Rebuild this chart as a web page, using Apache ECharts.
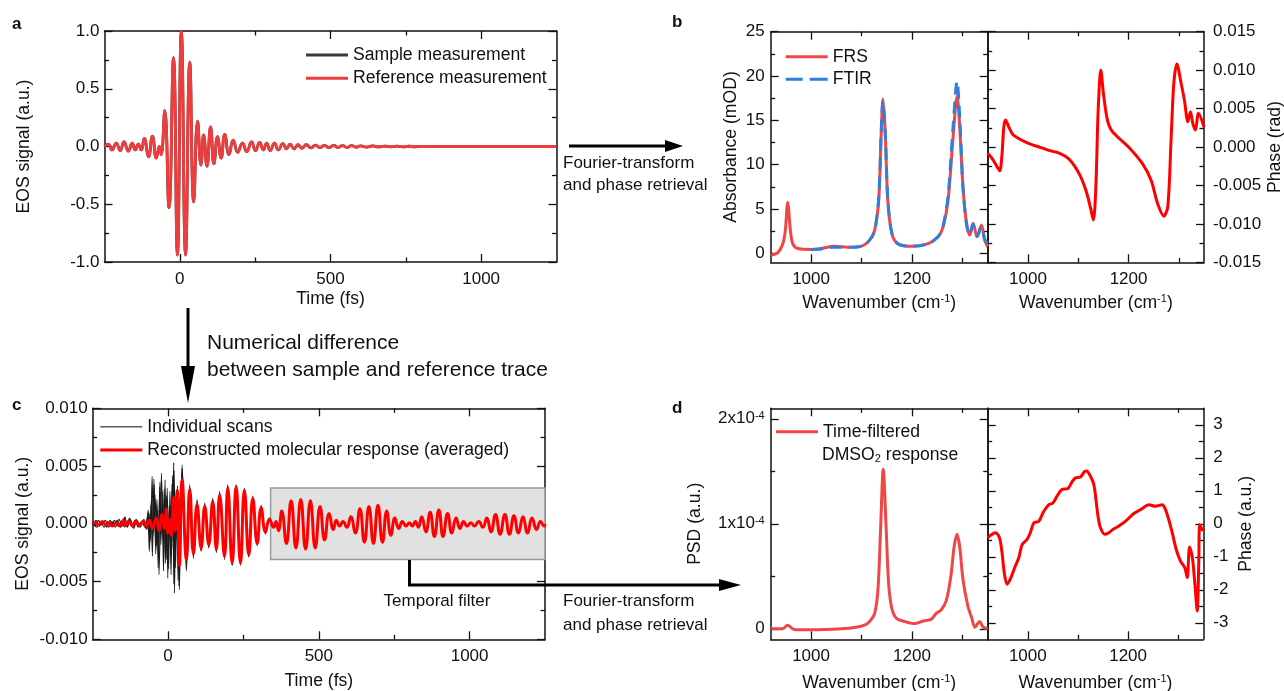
<!DOCTYPE html>
<html>
<head>
<meta charset="utf-8">
<script src="https://cdn.jsdelivr.net/npm/echarts@6/dist/echarts.min.js"></script>
<style>html,body{margin:0;padding:0;background:#fff}#c{width:1284px;height:691px}</style>
</head>
<body>
<div id="c"></div>
<script>
// ================= DATA =================
// Panel a: EOS signal (a.u.) vs time (fs); extrema of the reference trace.
// The sample trace is indistinguishable from it at this scale and is hidden underneath.
const aReference = [[-250,0],[-238,0.02],[-225,-0.03],[-211,0.03],[-198,-0.035],[-185,0.04],[-171,-0.04],[-158,0.03],[-148,-0.03],[-138,0.02],[-128,-0.03],[-118,0.07],[-104,-0.09],[-91,0.09],[-78,-0.1],[-68,0.0],[-62,-0.07],[-50,0.31],[-36,-0.53],[-21,0.77],[-8,-0.94],[5,1.0],[19,-0.94],[33,0.73],[46,-0.48],[59,0.22],[70,-0.16],[79,0.1],[90,-0.17],[102,0.17],[113,-0.15],[125,0.085],[137,-0.1],[149,0.105],[163,-0.07],[177,0.056],[192,-0.05],[208,0.03],[222,-0.045],[238,0.04],[251,-0.035],[265,0.035],[277,-0.03],[288,0.03],[300,-0.035],[314,0.03],[327,-0.03],[342,0.025],[354,-0.02],[366,0.02],[379,-0.02],[392,0.015],[405,-0.015],[420,0.015],[435,-0.012],[450,0.012],[465,-0.01],[480,0.01],[495,-0.01],[510,0.01],[525,-0.008],[540,0.008],[555,-0.008],[570,0.008],[585,-0.006],[600,0.006],[620,-0.005],[640,0.005],[660,-0.004],[680,0.004],[700,-0.003],[720,0.003],[740,-0.003],[760,0.002],[780,-0.002],[800,0],[1250,0]];

// Panel b: absorbance (mOD) and phase (rad) vs wavenumber (cm-1)
const bFRS = [[920,-0.2],[934,0.1],[944,1.1],[949,2.6],[953.7,5.75],[959,2.6],[963.6,1.1],[973.6,0.55],[1000,0.45],[1020,0.55],[1046,0.8],[1073,0.7],[1099,0.8],[1116,1.5],[1126,2.6],[1134,6.0],[1139,13.5],[1142.4,17.4],[1147,13.5],[1152,6.0],[1160,2.25],[1172,1.1],[1200,0.8],[1232,1.1],[1252,1.9],[1261.6,3.0],[1271.5,6.0],[1281,12.8],[1289.3,17.75],[1294.5,14.3],[1301,7.5],[1308,3.4],[1314.5,2.06],[1321,3.4],[1329,1.9],[1337.6,3.2],[1344,1.5],[1350,0.75]];
const bFTIR = [[1000,0.45],[1020,0.5],[1046,0.7],[1073,0.7],[1099,0.8],[1116,1.5],[1126,2.6],[1134,6.2],[1139,13.8],[1142.4,17.1],[1147,13.6],[1152,6.2],[1160,2.3],[1172,1.1],[1200,0.8],[1232,1.1],[1252,1.9],[1261.6,3.1],[1271.5,6.5],[1281,14.0],[1289.3,19.4],[1294.5,15.5],[1301,7.5],[1308,3.3],[1314.5,2.1],[1321,3.3],[1329,1.9],[1337.6,3.0],[1344,1.6],[1350,1.2]];
const bPhase = [[920,-0.0008],[929,-0.0015],[939,-0.0026],[944,-0.0031],[948.5,-0.0009],[952,0.0026],[955.5,0.0035],[962,0.0026],[972,0.0015],[1000,0.0005],[1022,0.0],[1045,-0.0005],[1062,-0.0008],[1082,-0.0016],[1102,-0.0035],[1115,-0.0056],[1124,-0.0078],[1130,-0.0095],[1135,-0.0052],[1139.6,0.0048],[1145,0.0100],[1150,0.007],[1158,0.0035],[1168,0.002],[1200,0.0],[1228,-0.0022],[1244.7,-0.0043],[1258,-0.0074],[1270,-0.009],[1278,-0.0078],[1284.5,0.0009],[1290,0.0083],[1296,0.0108],[1304.5,0.0083],[1311,0.0061],[1318,0.0033],[1323,0.0046],[1328,0.003],[1333,0.0022],[1339,0.0044],[1350,0.0026]];

// Panel c: reconstructed molecular response (averaged) and individual scans, EOS (a.u.) vs time (fs)
const cAveraged = [[-250,0],[-240,0.0001],[-230,-0.0001],[-218,0.0002],[-206,-0.0001],[-195,0.0001],[-185,-0.0002],[-172,0.0001],[-160,-0.0002],[-148,0.0003],[-140,-0.0001],[-130,0.0002],[-118,-0.0002],[-106,0.0002],[-94,-0.0001],[-82,0.0002],[-72,-0.0002],[-62,0.0003],[-52,-0.0004],[-39,0.0005],[-30,-0.0006],[-20,0.0008],[-12,-0.0004],[-5.6,0.0013],[-1,-0.0008],[6,0.0004],[11,-0.001],[18.7,0.0023],[24,-0.0006],[30,0.0029],[37.5,-0.0036],[46.5,0.0038],[60.8,-0.0031],[71.8,0.003],[84,-0.0026],[96,0.0017],[109.6,-0.0021],[121.6,0.0015],[135,-0.0018],[148,0.0019],[160,-0.0022],[171,0.0025],[187,-0.0028],[198,0.0031],[212.5,-0.0034],[225.6,0.0032],[240,-0.0034],[253,0.0029],[267.6,-0.0027],[281,0.0022],[295.5,-0.0017],[308.7,0.0014],[323,-0.0007],[336,0.0004],[350,-0.0003],[358,0.0002],[366,-0.0006],[377,0.0011],[392.5,-0.0017],[408,0.002],[424,-0.0021],[440,0.0021],[456,-0.0022],[472,0.002],[488,-0.0021],[504,0.0015],[519,-0.0014],[534,0.0009],[548,-0.0005],[558,0.0003],[569,-0.0002],[580,0.0002],[593,-0.0003],[606,0.0006],[621,-0.0008],[636,0.0013],[651,-0.0016],[666,0.0015],[681,-0.0017],[696,0.0016],[711,-0.0016],[725,0.0011],[739,-0.001],[752,0.0005],[765,-0.0004],[777,0.0002],[789,-0.0002],[800,0.0001],[810,-0.0002],[820,0.0002],[830,-0.0003],[841,0.0006],[855,-0.0007],[869,0.001],[883,-0.0011],[898,0.0012],[912,-0.0011],[927,0.0009],[941,-0.0008],[955,0.0005],[968,-0.0004],[980,0.0002],[992,-0.0002],[1004,0.0001],[1016,-0.0002],[1030,0.0002],[1044,-0.0003],[1057,0.0005],[1071,-0.0007],[1086,0.0008],[1101,-0.0009],[1117,0.0008],[1132,-0.0009],[1147,0.0007],[1162,-0.0008],[1177,0.0006],[1192,-0.0008],[1207,0.0005],[1222,-0.0005],[1235,0.0002],[1247,-0.0002],[1250,0]];
const cScan1 = [[-250,0.0002],[-241,-0.0002],[-231,0.0003],[-220,-0.0001],[-208,0.0003],[-197,-0.0003],[-186,0.0002],[-175,-0.0003],[-163,0.0004],[-152,-0.0002],[-143,0.0006],[-135,-0.0003],[-125,0.0004],[-114,-0.0004],[-103,0.0003],[-92,-0.0003],[-80,0.0004],[-70,-0.0005],[-63,0.0009],[-58,-0.0013],[-53,0.0041],[-48,-0.0007],[-43,0.0025],[-38,-0.0019],[-34,0.0012],[-30,-0.0044],[-22,0.0044],[-17,-0.0015],[-13,0.003],[-9,-0.0034],[-5,0.0024],[-1,-0.0047],[4,0.0016],[9,-0.0028],[13,0.0034],[16,0.0008],[18.7,0.0053],[21,-0.006],[26,0.0012],[30,-0.0008],[33,0.0029],[37.5,-0.0057],[46.5,0.0051],[60.8,-0.0041],[71.8,0.0034],[84,-0.003],[96,0.0021],[109.6,-0.0024],[121.6,0.0018],[135,-0.0021],[148,0.0022],[160,-0.0025],[171,0.0028],[187,-0.0031],[198,0.0034],[212.5,-0.0036],[225.6,0.0034],[240,-0.0036],[253,0.0031],[267.6,-0.0029],[281,0.0024],[295.5,-0.0019],[308.7,0.0016],[323,-0.0009],[336,0.0005],[350,-0.0003]];
const cScan2 = [[-250,-0.0001],[-239,0.0003],[-228,-0.0002],[-216,0.0002],[-204,-0.0003],[-192,0.0003],[-181,-0.0002],[-169,0.0003],[-157,-0.0003],[-146,0.0005],[-137,-0.0002],[-128,0.0005],[-117,-0.0003],[-106,0.0004],[-95,-0.0002],[-84,0.0003],[-74,-0.0004],[-66,0.0012],[-60,-0.0016],[-55,0.0022],[-50,-0.0011],[-46,0.0034],[-41,-0.0026],[-36,0.0009],[-33,-0.0038],[-27,0.0036],[-23,-0.0009],[-19,0.0028],[-14,-0.0024],[-10,0.0038],[-6,-0.0031],[-2,0.0021],[2,-0.0039],[6,0.0028],[11,-0.0016],[15,0.0042],[19,-0.0052],[23,0.0022],[27,-0.0014],[31,0.0033],[36,-0.0054],[41,0.0015],[43,0.0006],[46.5,0.0048],[60.8,-0.0035],[71.8,0.0031],[84,-0.0027],[96,0.0018],[109.6,-0.0022],[121.6,0.0016],[135,-0.002],[148,0.0021],[160,-0.0024],[171,0.0026],[187,-0.003],[198,0.0033],[212.5,-0.0036],[225.6,0.0033],[240,-0.0035],[253,0.003],[267.6,-0.0028],[281,0.0023],[295.5,-0.0018],[308.7,0.0015],[323,-0.0008],[336,0.0005],[350,-0.0003]];
const cScan3 = [[-250,0.0001],[-236,-0.0003],[-224,0.0002],[-212,-0.0003],[-200,0.0002],[-189,-0.0002],[-178,0.0003],[-166,-0.0002],[-155,0.0002],[-144,-0.0003],[-132,0.0003],[-121,-0.0002],[-110,0.0003],[-99,-0.0003],[-88,0.0002],[-77,-0.0003],[-68,0.0006],[-62,-0.0024],[-57,0.0016],[-52,-0.0028],[-47,0.0039],[-42,-0.0012],[-37,0.0021],[-32,-0.0029],[-28,0.0032],[-24,-0.0018],[-20,0.0017],[-15,-0.0041],[-11,0.0026],[-7,-0.0018],[-3,0.0031],[1,-0.0022],[5,0.0012],[10,-0.0044],[14,0.0029],[17,-0.0021],[20,0.0046],[25,-0.0038],[29,0.0025],[33,-0.0049],[39,0.0022],[42,-0.0018],[46.5,0.0044],[60.8,-0.0033],[71.8,0.003],[84,-0.0028],[96,0.0017],[109.6,-0.0023],[121.6,0.0016],[135,-0.0019],[148,0.002],[160,-0.0023],[171,0.0027],[187,-0.0029],[198,0.0032],[212.5,-0.0035],[225.6,0.0033],[240,-0.0035],[253,0.003],[267.6,-0.0028],[281,0.0023],[295.5,-0.0018],[308.7,0.0015],[323,-0.0008],[336,0.0004],[350,-0.0003]];
// temporal filter window: [t start, t end, signal low, signal high]
const cFilterWindow = [340, 1250, -0.0031, 0.0031];

// Panel d: PSD (units of 1e-4 a.u.) and phase (a.u.) vs wavenumber (cm-1)
const dPSD = [[920,0.0],[944,0.0],[953.7,0.035],[963.6,0.0],[975,-0.01],[1000,-0.01],[1060,0.0],[1089,0.015],[1106,0.035],[1116,0.07],[1126,0.147],[1132.5,0.37],[1137.7,0.94],[1143,1.52],[1148.4,1.0],[1153.7,0.43],[1160,0.195],[1169,0.1],[1185,0.07],[1205,0.05],[1222,0.075],[1238,0.09],[1248,0.147],[1258,0.18],[1268,0.27],[1277,0.5],[1283.4,0.78],[1289.3,0.9],[1294.6,0.78],[1301,0.47],[1311,0.21],[1318,0.11],[1324.6,0.015],[1334,0.07],[1341,0.015],[1350,0.0]];
const dPhase = [[920,-0.42],[935.5,-0.27],[943.5,-0.42],[948.6,-0.88],[953,-1.48],[958.5,-1.83],[965,-1.68],[975,-1.28],[982,-1.03],[988.6,-0.63],[998.6,-0.47],[1005,-0.27],[1012,0.03],[1022,0.08],[1032,0.38],[1042,0.58],[1050,0.63],[1058,0.83],[1068,1.04],[1080,1.07],[1089,1.29],[1095,1.39],[1105,1.42],[1113.6,1.59],[1117,1.6],[1125,1.44],[1131.6,1.19],[1136,0.73],[1140,0.23],[1145,-0.12],[1153.6,-0.32],[1161.6,-0.27],[1169.6,-0.17],[1181.5,-0.07],[1195,0.08],[1211.4,0.31],[1228,0.46],[1241,0.58],[1254.6,0.53],[1268,0.58],[1274.6,0.43],[1281,0.13],[1288,-0.27],[1296,-0.78],[1304.5,-1.13],[1313,-1.33],[1318,-1.63],[1322.6,-0.7],[1328,-1.0],[1333,-1.78],[1337.8,-2.64],[1341,-1.18],[1343,-0.02],[1349,-0.22]];

// Tick values
const timeTicks = [0, 500, 1000], timeMinor = [250, 750];
const wnTicks = [1000, 1200], wnMinor = [1100, 1300];
const aYTicks = [-1, -0.5, 0, 0.5, 1], aYMinor = [-0.75, -0.25, 0.25, 0.75];
const absTicks = [0, 5, 10, 15, 20, 25], absMinor = [2.5, 7.5, 12.5, 17.5, 22.5];
const radTicks = [-0.015, -0.01, -0.005, 0, 0.005, 0.01, 0.015], radMinor = [-0.0125, -0.0075, -0.0025, 0.0025, 0.0075, 0.0125];
const cYTicks = [-0.01, -0.005, 0, 0.005, 0.01], cYMinor = [-0.0075, -0.0025, 0.0025, 0.0075];
const psdTicks = [0, 1, 2], psdMinor = [0.5, 1.5];
const phTicks = [-3, -2, -1, 0, 1, 2, 3], phMinor = [-2.5, -1.5, -0.5, 0.5, 1.5, 2.5];

// ================= CHART =================
const FONT = '"Liberation Sans", Arial, Helvetica, sans-serif';
const INK = '#111111';
const TXT = 17.6;
const RICH = {
  sup: {fontSize: 11, lineHeight: 10, verticalAlign: 'top', fontFamily: FONT, color: INK},
  sub: {fontSize: 11, lineHeight: 10, verticalAlign: 'bottom', fontFamily: FONT, color: INK}
};
const WN = 'Wavenumber (cm{sup|-1})';

const timeAxis = {min: -250, max: 1250, majors: timeTicks, minors: timeMinor, fmt: v => String(v)};
const wnAxis = {min: 920, max: 1350, majors: wnTicks, minors: wnMinor, fmt: v => String(v)};
const aYAxis = {min: -1, max: 1, majors: aYTicks, minors: aYMinor, fmt: v => v.toFixed(1)};
const absAxis = {min: -1, max: 25, majors: absTicks, minors: absMinor, fmt: v => String(v)};
const radAxis = {min: -0.015, max: 0.015, majors: radTicks, minors: radMinor, fmt: v => v.toFixed(3)};
const cYAxis = {min: -0.01, max: 0.01, majors: cYTicks, minors: cYMinor, fmt: v => v.toFixed(3)};
const psdAxis = {min: -0.1, max: 2.1, majors: psdTicks, minors: psdMinor, fmt: v => v === 0 ? '0' : Math.round(v) + 'x10{sup|-4}'};
const phAxis = {min: -3.5, max: 3.5, majors: phTicks, minors: phMinor, fmt: v => String(v)};

const panels = [
  {g: {left: 104.5, top: 31, width: 452, height: 231}, x: timeAxis, y: aYAxis, ySide: 'left', xName: 'Time (fs)', xGap: 26, yName: 'EOS signal (a.u.)', yGap: 70, xMargin: 9, yMargin: 5},
  {g: {left: 770.7, top: 31.7, width: 217, height: 230.6}, x: wnAxis, y: absAxis, ySide: 'left', xName: WN, xGap: 31, yName: 'Absorbance (mOD)', yGap: 30, xMargin: 9, yMargin: 6},
  {g: {left: 987.7, top: 31.7, width: 216.3, height: 230.6}, x: wnAxis, y: radAxis, ySide: 'right', xName: WN, xGap: 31, yName: 'Phase (rad)', yGap: 58, xMargin: 9, yMargin: 9},
  {g: {left: 92.7, top: 408.3, width: 452.3, height: 231}, x: timeAxis, y: cYAxis, ySide: 'left', xName: 'Time (fs)', xGap: 32, yName: 'EOS signal (a.u.)', yGap: 60, xMargin: 9, yMargin: 5},
  {g: {left: 770.7, top: 408.3, width: 217, height: 231}, x: wnAxis, y: psdAxis, ySide: 'left', xName: WN, xGap: 34, yName: 'PSD (a.u.)', yGap: 66, xMargin: 9, yMargin: 6},
  {g: {left: 987.7, top: 408.3, width: 215.6, height: 231}, x: wnAxis, y: phAxis, ySide: 'right', xName: WN, xGap: 34, yName: 'Phase (a.u.)', yGap: 33, xMargin: 9, yMargin: 10}
];

function mkAxis(dim, gi, pos, spec, major, labelOn, name, gap, margin) {
  const ax = {
    type: 'value', gridIndex: gi, position: pos, min: spec.min, max: spec.max,
    axisLine: {show: major, onZero: false, lineStyle: {color: INK, width: 1.5}},
    axisTick: {show: true, inside: true, length: major ? 8 : 4.5, customValues: major ? spec.majors : spec.minors, lineStyle: {color: INK, width: 1.3}},
    axisLabel: {show: labelOn, customValues: spec.majors, formatter: spec.fmt, margin: margin || 8, fontSize: 17, color: INK, fontFamily: FONT, rich: RICH},
    splitLine: {show: false}, minorTick: {show: false}, minorSplitLine: {show: false},
    silent: true
  };
  if (name) {
    ax.name = name;
    ax.nameLocation = 'middle';
    ax.nameGap = gap;
    if (dim === 'y') ax.nameRotate = 90;
    ax.nameTextStyle = {fontSize: TXT, lineHeight: 20, color: INK, fontFamily: FONT, rich: RICH};
  }
  return ax;
}

const grid = [], xAxis = [], yAxis = [];
panels.forEach((p, gi) => {
  grid.push(Object.assign({containLabel: false, outerBoundsMode: 'none'}, p.g));
  xAxis.push(mkAxis('x', gi, 'bottom', p.x, true, true, p.xName, p.xGap, p.xMargin));
  xAxis.push(mkAxis('x', gi, 'bottom', p.x, false, false));
  xAxis.push(mkAxis('x', gi, 'top', p.x, true, false));
  xAxis.push(mkAxis('x', gi, 'top', p.x, false, false));
  const L = p.ySide === 'left';
  yAxis.push(mkAxis('y', gi, 'left', p.y, true, L, L ? p.yName : null, p.yGap, p.yMargin));
  yAxis.push(mkAxis('y', gi, 'left', p.y, false, false));
  yAxis.push(mkAxis('y', gi, 'right', p.y, true, !L, !L ? p.yName : null, p.yGap, p.yMargin));
  yAxis.push(mkAxis('y', gi, 'right', p.y, false, false));
});

function line(gi, name, data, color, width, extra) {
  return Object.assign({
    type: 'line', name, data, xAxisIndex: 4 * gi, yAxisIndex: 4 * gi,
    symbol: 'none', showSymbol: false, smooth: 0.5, z: 3,
    lineStyle: {color, width}, itemStyle: {color}, emphasis: {disabled: true}
  }, extra || {});
}

const RED = '#ff0000';
const series = [
  line(0, 'Sample measurement', aReference, '#3a3a3a', 2.8),
  line(0, 'Reference measurement', aReference, '#f03c3c', 2.8),
  line(1, 'FRS', bFRS, '#f04646', 3, {smooth: 0.3}),
  line(1, 'FTIR', bFTIR, '#2f7fe0', 3, {smooth: 0.3, z: 4, lineStyle: {color: '#2f7fe0', width: 3, type: [12, 7]}}),
  line(2, 'Phase (rad)', bPhase, RED, 3, {smooth: 0.3}),
  {type: 'line', name: 'Temporal filter', data: [], xAxisIndex: 12, yAxisIndex: 12, z: 1, silent: true,
   markArea: {silent: true, itemStyle: {color: '#e1e1e1', borderColor: '#9a9a9a', borderWidth: 1.5},
     data: [[{coord: [cFilterWindow[0], cFilterWindow[3]]}, {coord: [cFilterWindow[1], cFilterWindow[2]]}]]}},
  line(3, 'Individual scans', cScan1, '#1c1c1c', 1.1, {smooth: 0.25}),
  line(3, 'Individual scans', cScan2, '#1c1c1c', 1.1, {smooth: 0.25}),
  line(3, 'Individual scans', cScan3, '#1c1c1c', 1.1, {smooth: 0.25}),
  line(3, 'Reconstructed molecular response (averaged)', cAveraged, RED, 3, {z: 5}),
  line(4, 'Time-filtered', dPSD, '#f04646', 3, {smooth: 0.3}),
  line(5, 'Phase (a.u.)', dPhase, RED, 3, {smooth: 0.3})
];

// legend icons: plain line, dashed line, thin line (tiny corner anchors keep the 42x3 box)
const SOLID = 'path://M0,0h42v3h-42z';
const DASH = 'path://M0,0h17v3h-17zM24,0h18v3h-18z';
const THIN = 'path://M0,0h0.01v0.01h-0.01zM0,0.9h42v1.3h-42zM41.99,2.99h0.01v0.01h-0.01z';

function legend(items, left, top, gap) {
  return {data: items, left, top, orient: 'vertical', padding: 0, itemWidth: 42, itemHeight: 3, itemGap: gap,
    selectedMode: false, textStyle: {fontSize: TXT, lineHeight: 20, color: INK, fontFamily: FONT}};
}

function txt(x, y, text, size, extra) {
  return {type: 'text', x, y, z: 100, silent: true,
    style: Object.assign({text, font: size + 'px ' + FONT, fill: INK, align: 'left', verticalAlign: 'middle'}, extra || {})};
}
function seg(x1, y1, x2, y2) {
  return {type: 'line', z: 100, silent: true, shape: {x1, y1, x2, y2}, style: {stroke: '#000', lineWidth: 3}};
}
function head(points) {
  return {type: 'polygon', z: 100, silent: true, shape: {points}, style: {fill: '#000'}};
}

const graphics = [
  txt(12, 24, 'a', 17, {font: 'bold 17px ' + FONT}),
  txt(672, 22, 'b', 17, {font: 'bold 17px ' + FONT}),
  txt(12, 405, 'c', 17, {font: 'bold 17px ' + FONT}),
  txt(672, 408, 'd', 17, {font: 'bold 17px ' + FONT}),
  // a -> b
  seg(569, 146, 667, 146), head([[665, 140], [683, 146], [665, 152]]),
  txt(563, 163, 'Fourier-transform', 17), txt(563, 185, 'and phase retrieval', 17),
  // a -> c
  seg(188, 308, 188, 372), head([[181, 366], [195, 366], [188, 403]]),
  txt(207, 343, 'Numerical difference', 21), txt(207, 370, 'between sample and reference trace', 21),
  // c -> d
  seg(409.5, 560, 409.5, 585), seg(408, 585, 722, 585), head([[719, 579], [741, 585], [719, 591]]),
  txt(437, 601.7, 'Temporal filter', 17, {align: 'center'}),
  txt(563, 601.7, 'Fourier-transform', 17), txt(563, 625, 'and phase retrieval', 17),
  // second line of panel d legend
  txt(822, 455, 'DMSO{sub|2} response', TXT, {rich: {sub: {fontSize: 11, lineHeight: 10, verticalAlign: 'bottom', fontFamily: FONT, fill: INK}}})
];

const option = {
  animation: false,
  backgroundColor: '#ffffff',
  textStyle: {fontFamily: FONT},
  grid, xAxis, yAxis, series,
  legend: [
    legend([{name: 'Sample measurement', icon: SOLID}, {name: 'Reference measurement', icon: SOLID}], 306, 45, 3.3),
    legend([{name: 'FRS', icon: SOLID}, {name: 'FTIR', icon: DASH}], 785.7, 46.7, 2.6),
    legend([{name: 'Individual scans', icon: THIN, itemStyle: {color: '#5a5a5a'}}, {name: 'Reconstructed molecular response (averaged)', icon: SOLID}], 100.3, 416.7, 3.3),
    legend([{name: 'Time-filtered', icon: SOLID}], 776, 421.7, 3)
  ],
  graphic: {elements: graphics}
};

const chart = echarts.init(document.getElementById('c'), null, {renderer: 'canvas', width: 1284, height: 691});
chart.setOption(option);
</script>
</body>
</html>
